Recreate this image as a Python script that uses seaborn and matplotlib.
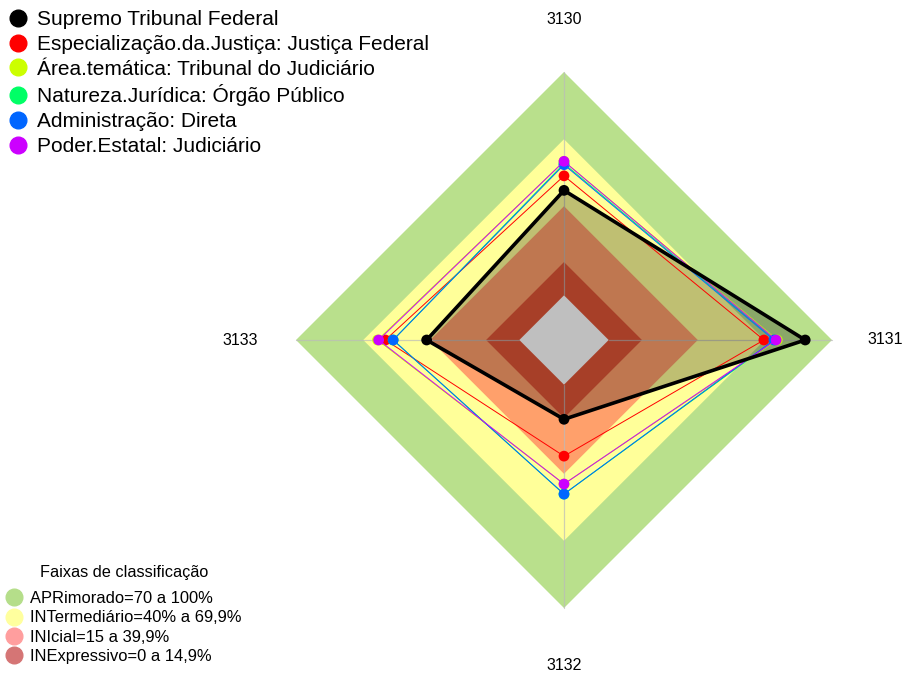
import numpy as np
import pandas as pd
import matplotlib.pyplot as plt
import seaborn as sns
from matplotlib.lines import Line2D

# Data (percent)
axis_labels = ["3130", "3131", "3132", "3133"]
series_names = [
    "Supremo Tribunal Federal",
    "Especialização.da.Justiça: Justiça Federal",
    "Área.temática: Tribunal do Judiciário",
    "Natureza.Jurídica: Órgão Público",
    "Administração: Direta",
    "Poder.Estatal: Judiciário",
]
series_colors = ["#000000", "#FF0000", "#CCFF00", "#00FF66", "#0066FF", "#CC00FF"]
supremo = [47.0, 88.0, 15.5, 41.5]
especializacao = [53.5, 69.5, 32.0, 60.0]
area_tematica = [60.0, 75.5, 44.5, 63.5]
natureza = [59.0, 74.5, 49.0, 56.5]
administracao = [58.5, 74.0, 49.0, 56.5]
poder = [60.0, 75.0, 44.5, 63.0]
series_values = [supremo, especializacao, area_tematica, natureza, administracao, poder]

band_labels = [
    "APRimorado=70 a 100%",
    "INTermediário=40% a 69,9%",
    "INIcial=15 a 39,9%",
    "INExpressivo=0 a 14,9%",
]
band_limits = [100, 69.9, 39.9, 14.9, 0]
band_colors = ["#B9E08C", "#FFFF99", "#FFA06B", "#E05536", "#FFFFFF"]
band_legend_colors = ["#B5DE8A", "#FFFF9E", "#FF9E9E", "#D57575"]

sns.set_style("white")
plt.rcParams["font.family"] = ["Liberation Sans", "DejaVu Sans"]
plt.rcParams["text.color"] = "black"

W, H = 904, 673
fig = plt.figure(figsize=(W / 100, H / 100), dpi=100)
ax = fig.add_axes([0, 0, 1, 1])

# geometry: center hole offset, pixels per unit
hole = 20.0
cx, cy = 564, 340
scale = 268 / (100 + hole)
ax.set_xlim(-cx / scale, (W - cx) / scale)
ax.set_ylim(-(H - cy) / scale, cy / scale)
ax.set_aspect("equal")
ax.axis("off")

theta = np.deg2rad([0, 90, 180, 270])


def to_xy(vals):
    r = hole + np.asarray(vals, dtype=float)
    x = r * np.sin(theta)
    y = r * np.cos(theta)
    return np.append(x, x[0]), np.append(y, y[0])


# classification bands
for lim, col in zip(band_limits, band_colors):
    x, y = to_xy([lim] * 4)
    ax.fill(x, y, color=col, lw=0, zorder=1)

# axis lines
for t in theta:
    ax.plot([hole * np.sin(t), (hole + 100) * np.sin(t)],
            [hole * np.cos(t), (hole + 100) * np.cos(t)],
            color="#BBBBBB", lw=0.9, alpha=0.7, zorder=2)

# black series fill
x, y = to_xy(supremo)
ax.fill(x, y, color="black", alpha=0.25, lw=0, zorder=3)

# series lines and points
order = [1, 2, 3, 4, 5, 0]
for z, i in enumerate(order):
    x, y = to_xy(series_values[i])
    df = pd.DataFrame({"x": x, "y": y})
    lw = 2.6 if i == 0 else 0.7
    sns.lineplot(data=df, x="x", y="y", sort=False, estimator=None,
                 color=series_colors[i], lw=lw, ax=ax, zorder=4 + z)
    sns.scatterplot(data=df.iloc[:-1], x="x", y="y", color=series_colors[i],
                    s=60, edgecolor="none", ax=ax, zorder=4 + z, legend=False)

ax.set_xlabel("")
ax.set_ylabel("")

# axis labels
label_r = [143.6, 144.0, 145.8, 145.0]
for lab, t, r in zip(axis_labels, theta, label_r):
    ax.text(r * np.sin(t), r * np.cos(t), lab, ha="center",
            va="center", fontsize=11.5, color="black")

# series legend
handles = [Line2D([], [], marker="o", ls="", color=c, markersize=12)
           for c in series_colors]
fig.legend(handles, series_names, loc="upper left",
           bbox_to_anchor=(9 / W, 1 - 10 / H), frameon=False, fontsize=15,
           borderpad=0, borderaxespad=0, handlelength=0.9,
           handletextpad=0.45, labelspacing=0.28, labelcolor="black")

# band legend
fig.text(124 / W, 1 - 572 / H, "Faixas de classificação", ha="center",
         va="center", fontsize=11.7, color="black")
bhandles = [Line2D([], [], marker="o", ls="", color=c, markersize=12)
            for c in band_legend_colors]
fig.legend(bhandles, band_labels, loc="lower left",
           bbox_to_anchor=(6 / W, 9 / H), frameon=False, fontsize=11.9,
           borderpad=0, borderaxespad=0, handlelength=1.0,
           handletextpad=0.46, labelspacing=0.26, labelcolor="black")

fig.savefig("out.png", dpi=100)
